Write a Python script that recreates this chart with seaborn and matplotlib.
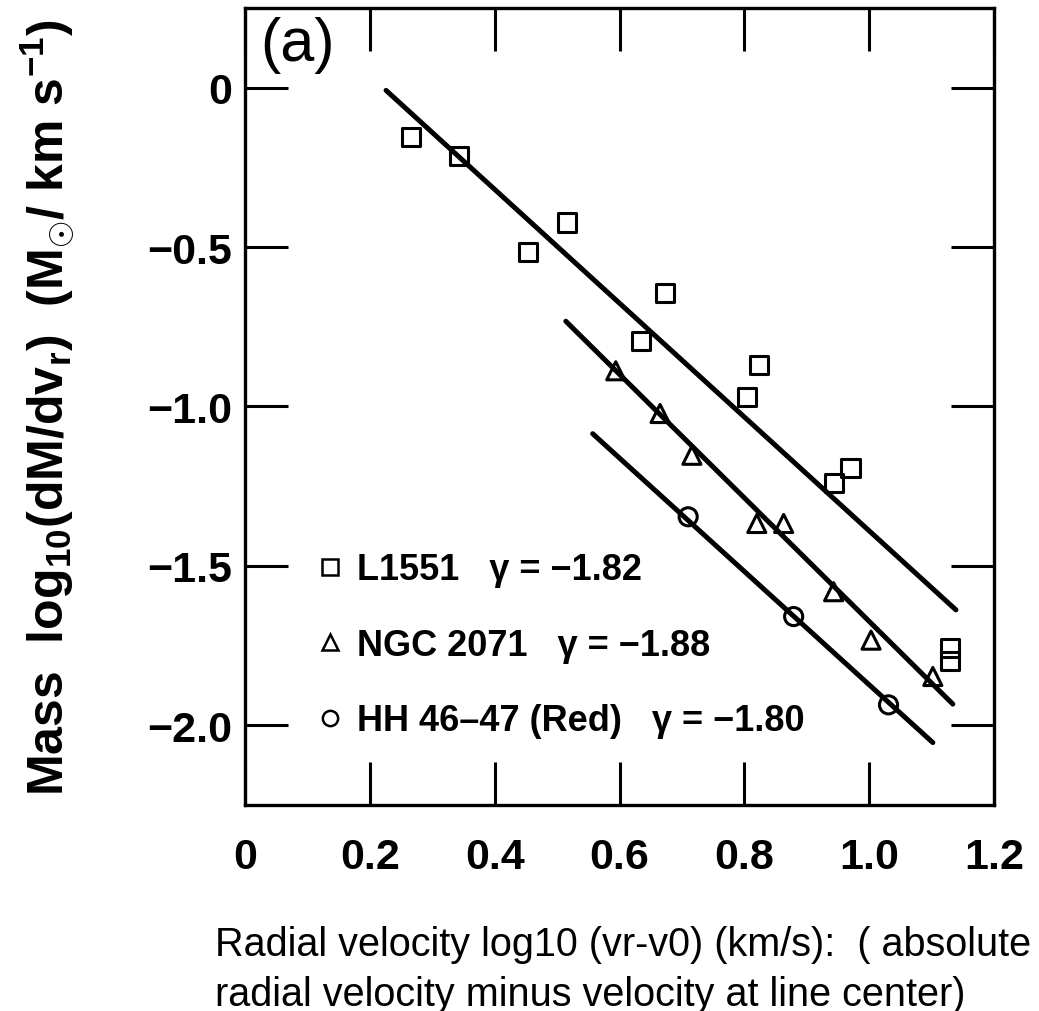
# %% imports
import matplotlib
matplotlib.use("Agg")
import matplotlib.pyplot as plt
from matplotlib.lines import Line2D
import numpy as np
import pandas as pd
import seaborn as sns

# %% data
l1551_x = [0.266, 0.343, 0.454, 0.516, 0.635, 0.673, 0.804, 0.823, 0.943, 0.970, 1.129, 1.129]
l1551_y = [-0.154, -0.214, -0.515, -0.423, -0.795, -0.643, -0.970, -0.870, -1.241, -1.192, -1.759, -1.798]

ngc_x = [0.594, 0.665, 0.716, 0.820, 0.863, 0.943, 1.003, 1.102]
ngc_y = [-0.888, -1.022, -1.153, -1.367, -1.367, -1.581, -1.733, -1.847]

hh_x = [0.710, 0.879, 1.031]
hh_y = [-1.346, -1.659, -1.936]

# fitted power-law lines: slope, intercept, x range
series_names = ["L1551", "NGC 2071", "HH 46\u201347 (Red)"]
gammas = ["\u22121.82", "\u22121.88", "\u22121.80"]
fit_slope = [-1.785, -1.937, -1.778]
fit_intercept = [0.395, 0.263, -0.095]
fit_xmin = [0.226, 0.514, 0.557]
fit_xmax = [1.139, 1.134, 1.102]

x_ticks = [0, 0.2, 0.4, 0.6, 0.8, 1.0, 1.2]
x_ticklabels = ["0", "0.2", "0.4", "0.6", "0.8", "1.0", "1.2"]
y_ticks = [0, -0.5, -1.0, -1.5, -2.0]
y_ticklabels = ["0", "\u22120.5", "\u22121.0", "\u22121.5", "\u22122.0"]

# %% tidy frames
points = pd.concat([
    pd.DataFrame({"x": l1551_x, "y": l1551_y, "src": series_names[0]}),
    pd.DataFrame({"x": ngc_x, "y": ngc_y, "src": series_names[1]}),
    pd.DataFrame({"x": hh_x, "y": hh_y, "src": series_names[2]}),
])
markers = dict(zip(series_names, ["s", "^", "o"]))

# %% style
sns.set_theme(style="ticks")
plt.rcParams["font.family"] = ["Liberation Sans", "DejaVu Sans"]
plt.rcParams["mathtext.fontset"] = "custom"
plt.rcParams["mathtext.rm"] = "Liberation Sans:bold"
plt.rcParams["mathtext.it"] = "Liberation Sans:bold"
plt.rcParams["mathtext.bf"] = "Liberation Sans:bold"
plt.rcParams["text.color"] = "black"
plt.rcParams["axes.labelcolor"] = "black"

fig = plt.figure(figsize=(10.39, 10.12), dpi=100)
ax = fig.add_axes([0.2358, 0.2036, 0.9567 - 0.2358, 0.9911 - 0.2036])

# %% points
for name in series_names:
    sub = points[points["src"] == name]
    sns.scatterplot(
        data=sub, x="x", y="y", marker=markers[name], s=170,
        facecolor="none", edgecolor="black", linewidth=2.2, ax=ax, legend=False,
    )

# %% fit lines
for k, m, b, x0, x1 in zip(series_names, fit_slope, fit_intercept, fit_xmin, fit_xmax):
    xs = np.array([x0, x1])
    sns.lineplot(x=xs, y=m * xs + b, color="black", linewidth=3.6, ax=ax)

# %% axes
ax.set_xlim(0, 1.2)
ax.set_ylim(-2.25, 0.25)
ax.set_xticks(x_ticks)
ax.set_xticklabels(x_ticklabels, fontweight="bold")
ax.set_yticks(y_ticks)
ax.set_yticklabels(y_ticklabels, fontweight="bold")
ax.tick_params(axis="both", direction="in", length=31, width=2.2,
               top=True, right=True, labelsize=31, colors="black")
ax.tick_params(axis="x", pad=23)
ax.tick_params(axis="y", pad=9)
for sp in ax.spines.values():
    sp.set_linewidth(2.4)
    sp.set_color("black")
ax.set_xlabel("")
ax.set_ylabel(
    r"Mass  log$_{\mathregular{10}}$(dM/dv$_{\mathregular{r}}$)  (M$_{\odot}$/ km s$^{\mathregular{-1}}$)",
    fontsize=36, fontweight="bold",
)
ax.yaxis.set_label_coords(-0.225, 0.5)

ax.text(0.02, 0.99, "(a)", transform=ax.transAxes, fontsize=44,
        ha="left", va="top")

# %% legend
handles = [
    Line2D([], [], linestyle="none", marker=markers[n], markersize=11,
           markerfacecolor="none", markeredgecolor="black", markeredgewidth=1.8)
    for n in series_names
]
labels = [f"{n}   \u03b3 = {g}" for n, g in zip(series_names, gammas)]
ax.legend(handles, labels, loc="upper left", bbox_to_anchor=(0.08, 0.335),
          frameon=False, handlelength=0.6, handletextpad=0.45,
          labelspacing=1.12, borderaxespad=0,
          prop={"size": 26, "weight": "bold"})

# %% x label below
fig.text(0.207, 0.0415,
         "Radial velocity log10 (vr-v0) (km/s):  ( absolute\n"
         "radial velocity minus velocity at line center)",
         fontsize=28.5, ha="left", va="center", linespacing=1.39)

fig.savefig("out.png", dpi=100, facecolor="white")
